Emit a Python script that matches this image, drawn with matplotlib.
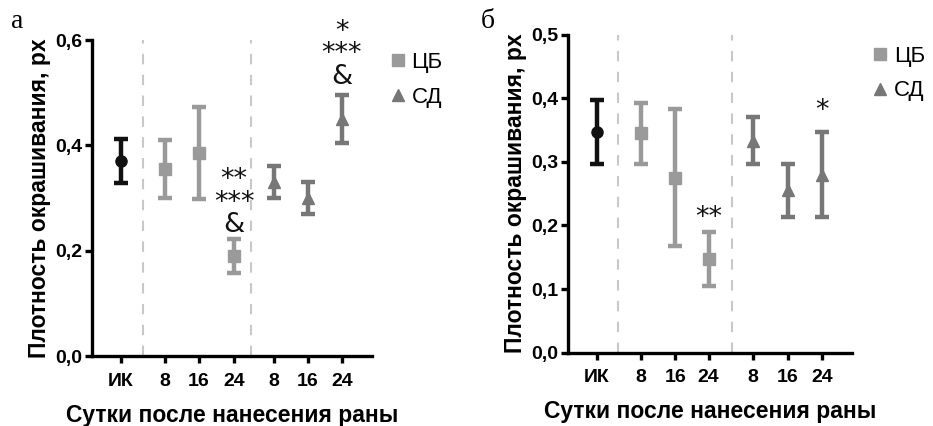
import matplotlib
matplotlib.use('Agg')
import matplotlib.pyplot as plt
from matplotlib.lines import Line2D

plt.rcParams['font.family'] = ['Liberation Sans', 'DejaVu Sans']
plt.rcParams['font.weight'] = 'bold'

# категории по оси X
tick_labels = ['ИК', '8', '16', '24', '8', '16', '24']
x_a = [0, 1.28, 2.26, 3.28, 4.44, 5.42, 6.4]
x_b = [0, 1.3, 2.3, 3.28, 4.58, 5.6, 6.6]

# панель а
ik_a = (0.37, 0.042)
cb_a_mean = [0.355, 0.385, 0.19]
cb_a_err = [0.055, 0.087, 0.032]
sd_a_mean = [0.33, 0.30, 0.45]
sd_a_err = [0.03, 0.03, 0.046]

# панель б
ik_b = (0.347, 0.05)
cb_b_mean = [0.345, 0.275, 0.147]
cb_b_err = [0.048, 0.108, 0.042]
sd_b_mean = [0.333, 0.255, 0.28]
sd_b_err = [0.037, 0.042, 0.067]

c_ik = '#111111'
c_cb = '#9a9a9a'
c_sd = '#777777'

fig = plt.figure(figsize=(9.33, 4.26), dpi=100)


def draw_panel(ax, xs, ik, cbm, cbe, sdm, sde, ymax, yticks, ylabels, xlim, dashes):
    kw = dict(linestyle='none', elinewidth=3.2, capsize=5, capthick=3.2)
    ax.errorbar([xs[0]], [ik[0]], yerr=[ik[1]], marker='o', color=c_ik, markersize=8, **kw)
    ax.errorbar(xs[1:4], cbm, yerr=cbe, marker='s', color=c_cb, markersize=9, **kw)
    ax.errorbar(xs[4:7], sdm, yerr=sde, marker='^', color=c_sd, markersize=9, **kw)
    for d in dashes:
        ax.axvline(d, color='#c8c8c8', linestyle=(0, (5, 5)), linewidth=1.5, zorder=0)
    ax.set_ylim(0, ymax)
    ax.set_xlim(*xlim)
    ax.set_yticks(yticks)
    ax.set_yticklabels(ylabels)
    ax.set_xticks(xs)
    ax.set_xticklabels(tick_labels)
    for s in ['top', 'right']:
        ax.spines[s].set_visible(False)
    for s in ['left', 'bottom']:
        ax.spines[s].set_linewidth(2.4)
    ax.tick_params(width=2.4, length=5, labelsize=14, pad=2)
    ax.tick_params(axis='x', pad=7)
    ax.set_ylabel('Плотность окрашивания, px', fontsize=16.5, fontweight='bold', labelpad=3)
    ax.set_xlabel('Сутки после нанесения раны', fontsize=16.5, fontweight='bold', labelpad=10)


def note(ax, x, y, s):
    ax.text(x, y, s, ha='center', va='bottom', fontsize=19.5, fontweight='normal',
            family='DejaVu Sans', linespacing=0.82, multialignment='center', clip_on=False,
            color='#111111')


ax1 = fig.add_axes([0.0986, 0.164, 0.3004, 0.742])
draw_panel(ax1, x_a, ik_a, cb_a_mean, cb_a_err, sd_a_mean, sd_a_err, 0.6,
           [0, 0.2, 0.4, 0.6], ['0,0', '0,2', '0,4', '0,6'], (-0.84, 7.28), [0.64, 3.77])
note(ax1, x_a[3], 0.224, '**\n***\n&')
note(ax1, x_a[6], 0.506, '*\n***\n&')

ax2 = fig.add_axes([0.609, 0.172, 0.304, 0.747])
draw_panel(ax2, x_b, ik_b, cb_b_mean, cb_b_err, sd_b_mean, sd_b_err, 0.5,
           [0, 0.1, 0.2, 0.3, 0.4, 0.5], ['0,0', '0,1', '0,2', '0,3', '0,4', '0,5'],
           (-0.84, 7.48), [0.62, 3.97])
note(ax2, x_b[3], 0.191, '**')
note(ax2, x_b[6], 0.359, '*')

handles = [Line2D([], [], linestyle='none', marker='s', color=c_cb, markersize=9),
           Line2D([], [], linestyle='none', marker='^', color=c_sd, markersize=9)]
for pos in [(0.416, 0.878), (0.933, 0.893)]:
    fig.legend(handles, ['ЦБ', 'СД'], loc='upper left', bbox_to_anchor=pos, frameon=False,
               prop={'size': 16, 'weight': 'normal'}, handletextpad=0.15, handlelength=0.9,
               labelspacing=0.62, borderpad=0, borderaxespad=0)

fig.text(0.012, 0.935, 'а', fontsize=20, family='Liberation Serif', fontweight='normal')
fig.text(0.515, 0.935, 'б', fontsize=20, family='Liberation Serif', fontweight='normal')

fig.savefig('out.png', dpi=100)
